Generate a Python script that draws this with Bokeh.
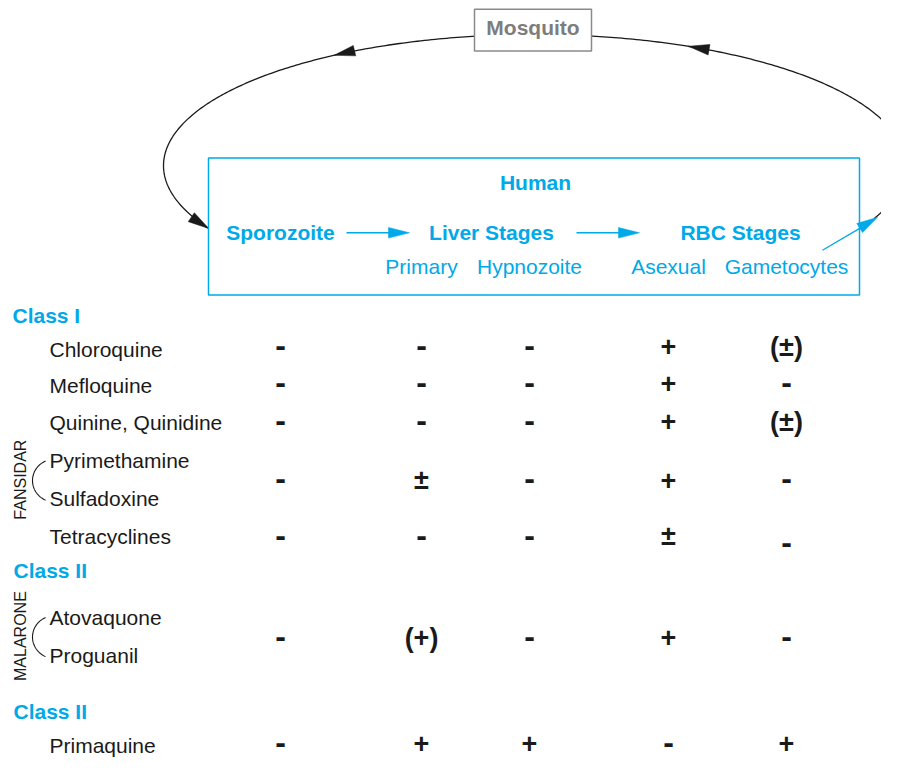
import numpy as np
from bokeh.plotting import figure
from bokeh.models import Range1d, ColumnDataSource
from bokeh.core.properties import value
from bokeh.embed import file_html
from bokeh.resources import INLINE

# ---------------- data ----------------
host_label = "Mosquito"
human_label = "Human"
main_stages = ["Sporozoite", "Liver Stages", "RBC Stages"]
sub_stages = ["Primary", "Hypnozoite", "Asexual", "Gametocytes"]
columns = ["Sporozoite", "Primary", "Hypnozoite", "Asexual", "Gametocytes"]
class_labels = ["Class I", "Class II", "Class II"]
drug_labels = ["Chloroquine", "Mefloquine", "Quinine, Quinidine", "Pyrimethamine",
               "Sulfadoxine", "Tetracyclines", "Atovaquone", "Proguanil", "Primaquine"]
combo_labels = ["FANSIDAR", "MALARONE"]
row_names = ["Chloroquine", "Mefloquine", "Quinine, Quinidine", "Fansidar",
             "Tetracyclines", "Malarone", "Primaquine"]
sporozoite = ["-", "-", "-", "-", "-", "-", "-"]
primary = ["-", "-", "-", "±", "-", "(+)", "+"]
hypnozoite = ["-", "-", "-", "-", "-", "-", "+"]
asexual = ["+", "+", "+", "+", "±", "+", "-"]
gametocytes = ["(±)", "-", "(±)", "-", "-", "-", "+"]

# ---------------- layout ----------------
CYAN = "#00a9e8"
GRAY = "#7d7d7d"
INK = "#1a1a1a"
FONT = value("Liberation Sans")
FS = 21
YMAX = 782
H = 760
UNIT = YMAX / H  # data units per screen pixel (vertical)


def bl(y, fs):
    """baseline correction for the svg text renderer"""
    return y - 0.36 * fs * UNIT


col_x = [280, 421, 529, 668, 786]
row_y = [358, 396, 435, 495, 553, 657, 766]
row_dy = [[0, 0, 0, 0, 0], [0, 0, 0, 0, 0], [0, 0, 0, 0, 0], [0, 0, 0, 0, 0],
          [0, 0, 0, 0, 8], [0, 0, 0, 0, 0], [0, 0, 0, 0, 0]]
drug_x = 49
drug_base = [366.5, 403.5, 442.5, 481, 520, 559.5, 642.5, 681.5, 774]
class_x = [12, 13, 13]
class_base = [332, 594, 739.5]
main_x = [280, 491, 740]
sub_x = [421, 529, 668, 786]

p = figure(width=881, height=H, x_range=Range1d(0, 881), y_range=Range1d(YMAX, 0),
           output_backend="svg", toolbar_location=None, min_border=0)
p.axis.visible = False
p.grid.visible = False
p.outline_line_color = None
p.background_fill_color = "white"
p.border_fill_color = "white"

# ---- life-cycle ellipse ----
cx, cy, ea, eb = 534, 170, 371, 135
t = np.radians(np.linspace(-23.8, 208.6, 400))
p.line(cx + ea * np.cos(t), cy - eb * np.sin(t), line_color=INK, line_width=1.3)


def head(tip_x, tip_y, dx, dy, length, half):
    n = np.hypot(dx, dy)
    ux, uy = dx / n, dy / n
    bx, by = tip_x - ux * length, tip_y - uy * length
    return [tip_x, bx - uy * half, bx + uy * half], [tip_y, by + ux * half, by - ux * half]


hx, hy = [], []
for deg in (122.7, 65.5, 208.6):
    tt = np.radians(deg)
    px_, py_ = cx + ea * np.cos(tt), cy - eb * np.sin(tt)
    dx, dy = -ea * np.sin(tt), -eb * np.cos(tt)
    a, b = head(px_, py_, dx, dy, 21, 5.5)
    hx.append(a)
    hy.append(b)
p.patches(hx, hy, fill_color=INK, line_color=INK, line_width=0.5)

# ---- mosquito box ----
p.quad(left=474, right=591, top=9, bottom=52, fill_color="white",
       line_color="#8a8a8a", line_width=1.5)
p.text(x=[532.5], y=[bl(36, FS)], text=[host_label], text_font=FONT,
       text_font_size=f"{FS}px", text_font_style="bold", text_color=GRAY,
       text_align="center", text_baseline="alphabetic")

# ---- human box ----
p.quad(left=208, right=859, top=162, bottom=303, fill_color=None,
       line_color=CYAN, line_width=1.5)
p.text(x=[535], y=[bl(195, FS)], text=[human_label], text_font=FONT,
       text_font_size=f"{FS}px", text_font_style="bold", text_color=CYAN,
       text_align="center", text_baseline="alphabetic")
p.text(x=main_x, y=[bl(247, FS)] * 3, text=main_stages, text_font=FONT,
       text_font_size=f"{FS}px", text_font_style="bold", text_color=CYAN,
       text_align="center", text_baseline="alphabetic")
p.text(x=sub_x, y=[bl(281, FS)] * 4, text=sub_stages, text_font=FONT,
       text_font_size=f"{FS}px", text_color=CYAN, text_align="center",
       text_baseline="alphabetic")

# blue arrows
p.segment(x0=[346, 576, 822], y0=[239, 239, 257], x1=[392, 622, 860], y1=[239, 239, 234],
          line_color=CYAN, line_width=1.4)
bx_, by_ = [], []
for (tx, ty, dx, dy) in ((409, 239, 1, 0), (639, 239, 1, 0), (877, 223, 55, -34)):
    a, b = head(tx, ty, dx, dy, 21, 5.5)
    bx_.append(a)
    by_.append(b)
p.patches(bx_, by_, fill_color=CYAN, line_color=CYAN, line_width=0.5)

# ---- class headings ----
p.text(x=class_x, y=[bl(v, FS) for v in class_base], text=class_labels, text_font=FONT,
       text_font_size=f"{FS}px", text_font_style="bold", text_color=CYAN,
       text_align="left", text_baseline="alphabetic")

# ---- drug labels ----
p.text(x=[drug_x] * len(drug_labels), y=[bl(v, FS) for v in drug_base], text=drug_labels,
       text_font=FONT, text_font_size=f"{FS}px", text_color=INK, text_align="left",
       text_baseline="alphabetic")

# combination names (vertical)
p.text(x=[26 - 0.36 * 16, 26 - 0.36 * 16], y=[493, 654], text=combo_labels, text_font=FONT,
       text_font_size="16px", text_color=INK, text_align="center",
       text_baseline="alphabetic", angle=np.pi / 2)

# brackets
for yc in (494, 655):
    r = 22
    ang = np.radians(np.linspace(-66, 66, 60))
    p.line(54 - r * np.cos(ang), yc + r * np.sin(ang), line_color=INK, line_width=1.1)

# ---- activity grid ----
table = [sporozoite, primary, hypnozoite, asexual, gametocytes]
gx, gy, gt, gs = [], [], [], []
for ci, colvals in enumerate(table):
    for ri, sym in enumerate(colvals):
        fs = 32 if sym == "-" else 27
        gx.append(col_x[ci])
        gy.append(bl(row_y[ri] + row_dy[ri][ci] + 8.5, fs))
        gt.append(sym)
        gs.append(f"{fs}px")
src = ColumnDataSource(dict(x=gx, y=gy, t=gt, s=gs))
p.text(x="x", y="y", text="t", source=src, text_font=FONT, text_font_size="s",
       text_font_style="bold", text_color=INK, text_align="center",
       text_baseline="alphabetic")

open("out.html", "w").write(file_html(p, INLINE))
